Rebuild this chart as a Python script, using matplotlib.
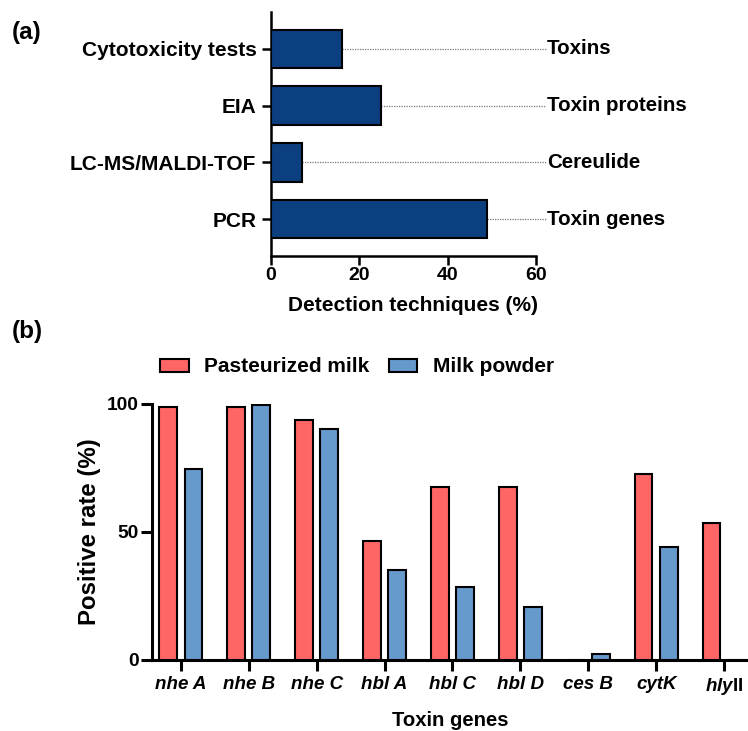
import numpy as np
import matplotlib
matplotlib.use("Agg")
import matplotlib.pyplot as plt
from matplotlib.patches import Patch

plt.rcParams['font.family'] = ['Liberation Sans', 'DejaVu Sans']
plt.rcParams['font.weight'] = 'bold'
plt.rcParams['mathtext.fontset'] = 'custom'
plt.rcParams['mathtext.rm'] = 'Liberation Sans:bold'
plt.rcParams['mathtext.bf'] = 'Liberation Sans:bold'
plt.rcParams['mathtext.it'] = 'Liberation Sans:bold:italic'
plt.rcParams['mathtext.bfit'] = 'Liberation Sans:bold:italic'

# panel (a)
techniques = ['PCR', 'LC-MS/MALDI-TOF', 'EIA', 'Cytotoxicity tests']
technique_pct = [49, 7, 25, 16]
targets = ['Toxin genes', 'Cereulide', 'Toxin proteins', 'Toxins']

# panel (b)
genes = ['nhe A', 'nhe B', 'nhe C', 'hbl A', 'hbl C', 'hbl D', 'ces B', 'cytK', r'$\mathbfit{hly}\mathbf{II}$']
pasteurized = [98.5, 98.5, 93.5, 46.5, 67.5, 67.5, 0, 72.5, 53.5]
powder = [74.5, 99.5, 90.2, 35, 28.5, 20.6, 2.1, 44, 0]

navy = '#0b3f7f'
red = '#fe6565'
blue = '#6699cc'

fig = plt.figure(figsize=(7.48, 7.31), dpi=100)

# ---------- (a) ----------
ax1 = fig.add_axes([0.3623, 0.6498, 0.3543, 0.3338])
y = np.arange(len(techniques))
ax1.barh(y, technique_pct, height=0.68, color=navy, edgecolor='black', linewidth=1.5, zorder=3)
for yi, v, t in zip(y, technique_pct, targets):
    ax1.plot([v, 62.2], [yi, yi], ls=(0, (1, 1)), color='#777777', lw=0.9, clip_on=False, zorder=2)
    ax1.text(62.5, yi, t, ha='left', va='center', fontsize=14.8, fontweight='bold')
ax1.set_xlim(0, 60)
ax1.set_ylim(-0.65, 3.65)
ax1.set_yticks(y)
ax1.set_yticklabels(techniques, fontsize=15, fontweight='bold')
ax1.set_xticks([0, 20, 40, 60])
ax1.tick_params(axis='x', labelsize=14, width=1.8, length=6.5, pad=1.5)
ax1.tick_params(axis='y', width=1.8, length=6.5, pad=4)
for lab in ax1.get_xticklabels():
    lab.set_fontweight('bold')
ax1.set_xlabel('Detection techniques (%)', fontsize=15, fontweight='bold')
ax1.xaxis.set_label_coords(0.534, -0.165)
for s in ['top', 'right']:
    ax1.spines[s].set_visible(False)
for s in ['left', 'bottom']:
    ax1.spines[s].set_linewidth(1.8)

fig.text(0.016, 0.947, '(a)', fontsize=17.5, fontweight='bold')

# ---------- (b) ----------
ax2 = fig.add_axes([0.2032, 0.0975, 0.797, 0.3505])
x = np.arange(len(genes))
w = 0.26
off = 0.186
ax2.bar(x - off, pasteurized, width=w, color=red, edgecolor='black', linewidth=1.5, zorder=3)
ax2.bar(x + off, powder, width=w, color=blue, edgecolor='black', linewidth=1.5, zorder=3)
ax2.set_xlim(-0.423, 8.353)
ax2.set_ylim(0, 100)
ax2.set_yticks([0, 50, 100])
ax2.set_xticks(x)
ax2.set_xticklabels(genes, fontsize=13.5, fontweight='bold', style='italic')
ax2.tick_params(axis='y', labelsize=13.8, width=2.2, length=8, pad=1.5)
ax2.tick_params(axis='x', width=2.2, length=8, pad=4)
for lab in ax2.get_yticklabels():
    lab.set_fontweight('bold')
ax2.set_ylabel('Positive rate (%)', fontsize=17.3, fontweight='bold', labelpad=4)
ax2.set_xlabel('Toxin genes', fontsize=14.6, fontweight='bold', labelpad=10)
for s in ['top', 'right']:
    ax2.spines[s].set_visible(False)
for s in ['left', 'bottom']:
    ax2.spines[s].set_linewidth(2.2)

handles = [Patch(facecolor=red, edgecolor='black', linewidth=1.5, label='Pasteurized milk'),
           Patch(facecolor=blue, edgecolor='black', linewidth=1.5, label='Milk powder')]
fig.legend(handles=handles, loc='center left', bbox_to_anchor=(0.2145, 0.498), ncol=2, frameon=False,
           prop={'size': 15, 'weight': 'bold'}, handlelength=1.36, handleheight=0.6, columnspacing=0.95,
           handletextpad=0.73, borderpad=0, borderaxespad=0)

fig.text(0.016, 0.537, '(b)', fontsize=17.5, fontweight='bold')

fig.savefig('out.png', dpi=100)
